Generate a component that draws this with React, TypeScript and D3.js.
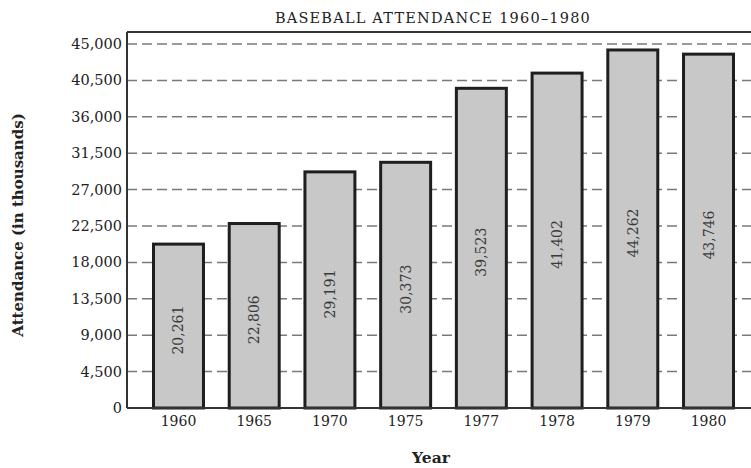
import * as d3 from "d3";

const years = ["1960", "1965", "1970", "1975", "1977", "1978", "1979", "1980"];
const attendance = [20261, 22806, 29191, 30373, 39523, 41402, 44262, 43746];
const yTicks = [0, 4500, 9000, 13500, 18000, 22500, 27000, 31500, 36000, 40500, 45000];

export default function App() {
  const width = 751;
  const height = 468;
  const left = 127;
  const top = 32;
  const bottom = 408;
  const font = "'DejaVu Serif', 'Liberation Serif', serif";

  const x = d3.scaleBand<string>().domain(years).range([left, 760]).paddingInner(0.34).paddingOuter(0.35);
  const y = d3.scaleLinear().domain([0, 45000]).range([bottom, 44]);
  const fmt = d3.format(",");

  return (
    <svg
      width={width}
      height={height}
      viewBox={`0 0 ${width} ${height}`}
      style={{ position: "absolute", left: 0, top: 0, background: "#fff" }}
      fontFamily={font}
    >
      <text x={433} y={23} textAnchor="middle" fontSize={14.5} fill="#222" letterSpacing={1.2}>
        BASEBALL ATTENDANCE 1960–1980
      </text>

      {/* grid */}
      {yTicks.filter((t) => t > 0).map((t) => (
        <line
          key={`g-${t}`}
          x1={left}
          x2={width}
          y1={y(t)}
          y2={y(t)}
          stroke="#7a7a7a"
          strokeWidth={1.5}
          strokeDasharray="10,5"
        />
      ))}

      {/* bars */}
      {years.map((yr, i) => {
        const x0 = x(yr)!;
        const bw = x.bandwidth();
        const yTop = y(attendance[i]);
        const cx = x0 + bw / 2;
        const cy = (yTop + bottom) / 2 + 4;
        return (
          <g key={yr}>
            <rect x={x0} y={yTop} width={bw} height={bottom - yTop} fill="#c8c8c8" stroke="#1e1e1e" strokeWidth={3} />
            <text
              transform={`translate(${cx + 5}, ${cy}) rotate(-90)`}
              textAnchor="middle"
              fontSize={14}
              fill="#3a3a3a"
            >
              {fmt(attendance[i])}
            </text>
            <text x={cx} y={426} textAnchor="middle" fontSize={14} fill="#222">
              {yr}
            </text>
          </g>
        );
      })}

      {/* frame */}
      <line x1={left} x2={width} y1={top} y2={top} stroke="#333" strokeWidth={2} />
      <line x1={left} x2={left} y1={top} y2={bottom} stroke="#333" strokeWidth={2} />
      <line x1={left} x2={width} y1={bottom} y2={bottom} stroke="#333" strokeWidth={2} />

      {/* y ticks */}
      {yTicks.map((t) => (
        <text key={`t-${t}`} x={122} y={y(t) + 5} textAnchor="end" fontSize={14.5} fill="#222">
          {fmt(t)}
        </text>
      ))}

      <text
        transform={`translate(23, 225) rotate(-90)`}
        textAnchor="middle"
        fontSize={15}
        fontWeight="bold"
        fill="#222"
      >
        Attendance (in thousands)
      </text>
      <text x={431} y={463} textAnchor="middle" fontSize={15.5} fontWeight="bold" fill="#222">
        Year
      </text>
    </svg>
  );
}
